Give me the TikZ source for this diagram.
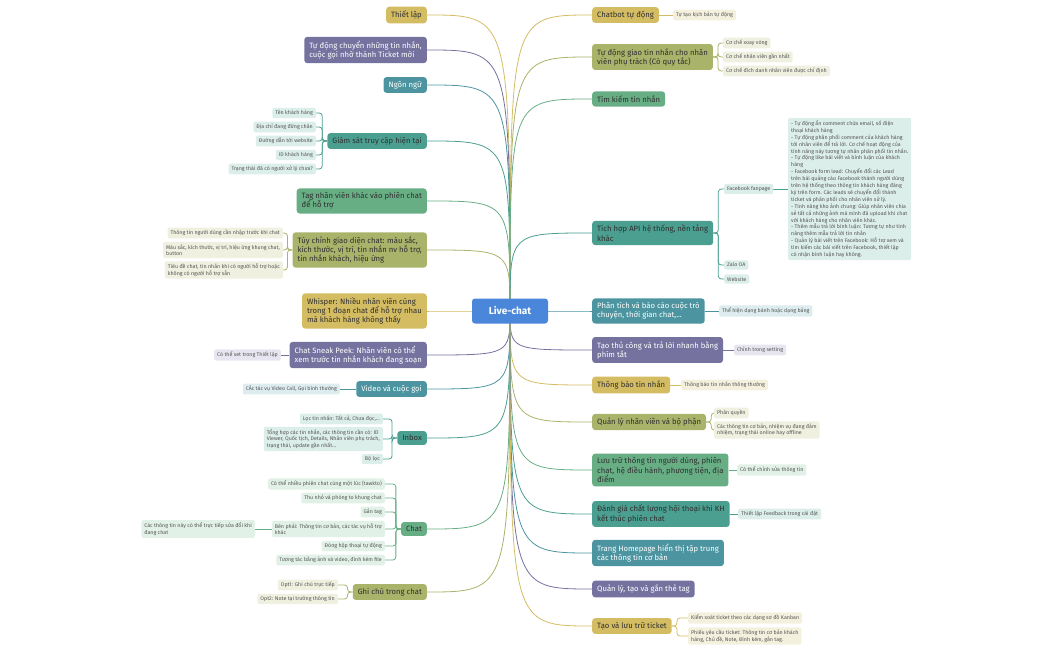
\documentclass[tikz,border=0pt]{standalone}
\usepackage{fontspec}
\setmainfont{Fira Sans}
\usetikzlibrary{backgrounds}

\definecolor{cYel}{HTML}{D4BC63}
\definecolor{cYelL}{HTML}{F4F0DE}
\definecolor{cPur}{HTML}{76729F}
\definecolor{cPurL}{HTML}{E7E6F0}
\definecolor{cTeal}{HTML}{4C95A0}
\definecolor{cTealL}{HTML}{DDEDEF}
\definecolor{cTgr}{HTML}{4B9F91}
\definecolor{cTgrL}{HTML}{DCEEEA}
\definecolor{cGrn}{HTML}{68AE85}
\definecolor{cGrnL}{HTML}{E2F1E7}
\definecolor{cOli}{HTML}{A9B36A}
\definecolor{cOliL}{HTML}{EFF0DF}
\definecolor{cBlue}{HTML}{4A86D9}
\definecolor{cDark}{HTML}{2F2F2F}
\definecolor{cGrey}{HTML}{555555}

\tikzset{
  main/.style={rounded corners=3pt, inner xsep=5pt, inner ysep=4pt, align=left,
    font=\fontsize{7.7}{9.3}\selectfont},
  yel/.style={main, fill=cYel, text=cDark},
  pur/.style={main, fill=cPur, text=white},
  teal/.style={main, fill=cTeal, text=white},
  tgr/.style={main, fill=cTgr, text=cDark},
  grn/.style={main, fill=cGrn, text=cDark},
  oli/.style={main, fill=cOli, text=cDark},
  sub/.style={rounded corners=2pt, inner xsep=3pt, inner ysep=2.5pt, align=left,
    text=cGrey, font=\fontsize{5.3}{6.5}\selectfont},
  sYel/.style={sub, fill=cYelL},
  sPur/.style={sub, fill=cPurL},
  sTeal/.style={sub, fill=cTealL},
  sTgr/.style={sub, fill=cTgrL},
  sGrn/.style={sub, fill=cGrnL},
  sOli/.style={sub, fill=cOliL},
  lYel/.style={draw=cYel, line width=0.8pt, rounded corners=3pt},
  lPur/.style={draw=cPur, line width=0.8pt, rounded corners=3pt},
  lTeal/.style={draw=cTeal, line width=0.8pt, rounded corners=3pt},
  lTgr/.style={draw=cTgr, line width=0.8pt, rounded corners=3pt},
  lGrn/.style={draw=cGrn, line width=0.8pt, rounded corners=3pt},
  lOli/.style={draw=cOli, line width=0.8pt, rounded corners=3pt},
}
\newcommand\branch[2]{\draw[#1] (lc.center) .. controls (lc.center |- #2) .. (#2);}
\newcommand\subL[3]{\draw[#1] (#2.west) -- ++(-5,0) |- (#3.east);}
\newcommand\subR[3]{\draw[#1] (#2.east) -- ++(5,0) |- (#3.west);}

\begin{document}
\begin{tikzpicture}[x=1pt, y=-1pt]
  \useasboundingbox (0,0) rectangle (1050,650);

  \node[rounded corners=3pt, fill=cBlue, text=white, minimum width=76pt, minimum height=25pt,
    font=\fontsize{10}{12}\selectfont\bfseries] (lc) at (510,311) {Live-chat};

  % left
  \node[yel, anchor=east] (setup) at (427,15) {Thiết lập};
  \node[pur, anchor=east] (autoTicket) at (427,50) {Tự động chuyển những tin nhắn,\\cuộc gọi nhỡ thành Ticket mới};
  \node[teal, anchor=east] (lang) at (427,85) {Ngôn ngữ};
  \node[tgr, anchor=east] (monitor) at (427,141) {Giám sát truy cập hiện tại};
  \node[sTgr, anchor=east] (m1) at (316,113) {Tên khách hàng};
  \node[sTgr, anchor=east] (m2) at (316,127) {Địa chỉ đang đứng chân};
  \node[sTgr, anchor=east] (m3) at (316,141) {Đường dẫn tới website};
  \node[sTgr, anchor=east] (m4) at (316,155) {ID khách hàng};
  \node[sTgr, anchor=east] (m5) at (316,169) {Trạng thái đã có người xử lý chưa?};
  \node[grn, anchor=east] (tagStaff) at (427,201) {Tag nhân viên khác vào phiên chat\\để hỗ trợ};
  \node[oli, anchor=east] (custom) at (427,250) {Tùy chỉnh giao diện chat: màu sắc,\\kích thước, vị trí, tin nhắn nv hỗ trợ,\\tin nhắn khách, hiệu ứng};
  \node[sOli, anchor=east] (c1) at (283,233) {Thông tin người dùng cần nhập trước khi chat};
  \node[sOli, anchor=east] (c2) at (283,250) {Màu sắc, kích thước, vị trí, hiệu ứng khung chat,\\button};
  \node[sOli, anchor=east] (c3) at (283,270) {Tiêu đề chat, tin nhắn khi có người hỗ trợ hoặc\\không có người hỗ trợ sẵn};
  \node[yel, anchor=east] (whisper) at (427,311) {Whisper: Nhiều nhân viên cùng\\trong 1 đoạn chat để hỗ trợ nhau\\mà khách hàng không thấy};
  \node[pur, anchor=east] (sneak) at (427,355) {Chat Sneak Peek: Nhân viên có thể\\xem trước tin nhắn khách đang soạn};
  \node[sPur, anchor=east] (s1) at (281,355) {Có thể set trong Thiết lập};
  \node[teal, anchor=east] (video) at (427,389) {Video và cuộc gọi};
  \node[sTeal, anchor=east] (v1) at (340,389) {CÁc tác vụ Video Call, Gọi bình thường};
  \node[tgr, anchor=east] (inbox) at (427,438) {Inbox};
  \node[sTgr, anchor=east] (i1) at (383,419) {Lọc tin nhắn: Tất cả, Chưa đọc,...};
  \node[sTgr, anchor=east] (i2) at (383,439) {Tổng hợp các tin nhắn, các thông tin cần có: ID\\Viewer, Quốc tịch, Details, Nhân viên phụ trách,\\trạng thái, update gần nhất...};
  \node[sTgr, anchor=east] (i3) at (383,459) {Bộ lọc};
  \node[grn, anchor=east] (chat) at (427,529) {Chat};
  \node[sGrn, anchor=east] (h1) at (385,484) {Có thể nhiều phiên chat cùng một lúc (tawkto)};
  \node[sGrn, anchor=east] (h2) at (385,498) {Thu nhỏ và phóng to khung chat};
  \node[sGrn, anchor=east] (h3) at (385,512) {Gắn tag};
  \node[sGrn, anchor=east] (h4) at (385,529) {Bên phải: Thông tin cơ bản, các tác vụ hỗ trợ\\khác};
  \node[sGrn, anchor=east] (h5) at (385,546) {Đóng hộp thoại tự động};
  \node[sGrn, anchor=east] (h6) at (385,560) {Tương tác bằng ảnh và video, đính kèm file};
  \node[sGrn, anchor=east] (h4a) at (255,529) {Các thông tin này có thể trực tiếp sửa đổi khi\\đang chat};
  \node[oli, anchor=east] (note) at (427,592) {Ghi chú trong chat};
  \node[sOli, anchor=east] (n1) at (338,585) {Opt1: Ghi chú trực tiếp};
  \node[sOli, anchor=east] (n2) at (338,599) {Opt2: Note tại trường thông tin};

  % right
  \node[yel, anchor=west] (bot) at (592,15) {Chatbot tự động};
  \node[sYel, anchor=west] (b1) at (673,15) {Tự tạo kịch bản tự động};
  \node[oli, anchor=west] (assign) at (592,57) {Tự động giao tin nhắn cho nhân\\viên phụ trách (Có quy tắc)};
  \node[sOli, anchor=west] (a1) at (723,43) {Cơ chế xoay vòng};
  \node[sOli, anchor=west] (a2) at (723,57) {Cơ chế nhân viên gần nhất};
  \node[sOli, anchor=west] (a3) at (723,71) {Cơ chế đích danh nhân viên được chỉ định};
  \node[grn, anchor=west] (search) at (592,99) {Tìm kiếm tin nhắn};
  \node[tgr, anchor=west] (api) at (592,233) {Tích hợp API hệ thống, nền tảng\\khác};
  \node[sTgr, anchor=west] (fb) at (724,189) {Facebook fanpage};
  \node[sTgr, anchor=west] (zalo) at (724,265) {Zalo OA};
  \node[sTgr, anchor=west] (web) at (724,279) {Website};
  \node[sTgr, anchor=west, font=\fontsize{5.3}{6.9}\selectfont] (fbDetail) at (788,189) {%
- Tự động ẩn comment chứa email, số điện\\thoại khách hàng\\
- Tự động phân phối comment của khách hàng\\tới nhân viên để trả lời. Cơ chế hoạt động của\\tính năng này tương tự nhân phân phối tin nhắn.\\
- Tự động like bài viết và bình luận của khách\\hàng\\
- Facebook form lead: Chuyển đổi các Lead\\trên bài quảng cáo Facebook thành người dùng\\trên hệ thống theo thông tin khách hàng đăng\\ký trên form. Các leads sẽ chuyển đổi thành\\ticket và phân phối cho nhân viên xử lý.\\
- Tính năng kho ảnh chung: Giúp nhân viên chia\\sẻ tất cả những ảnh mà mình đã upload khi chat\\với khách hàng cho nhân viên khác.\\
- Thêm mẫu trả lời bình luận: Tương tự như tính\\năng thêm mẫu trả lời tin nhắn\\
- Quản lý bài viết trên Facebook: Hỗ trợ xem và\\tìm kiếm các bài viết trên Facebook, thiết lập\\có nhận bình luận hay không.};
  \node[teal, anchor=west] (report) at (592,311) {Phân tích và báo cáo cuộc trò\\chuyện, thời gian chat,...};
  \node[sTeal, anchor=west] (r1) at (719,311) {Thể hiện dạng bánh hoặc dạng bảng};
  \node[pur, anchor=west] (quick) at (592,350) {Tạo thủ công và trả lời nhanh bằng\\phím tắt};
  \node[sPur, anchor=west] (q1) at (734,350) {Chỉnh trong setting};
  \node[yel, anchor=west] (notify) at (592,385) {Thông báo tin nhắn};
  \node[sYel, anchor=west] (t1) at (681,385) {Thông báo tin nhắn thông thường};
  \node[oli, anchor=west] (staff) at (592,422) {Quản lý nhân viên và bộ phận};
  \node[sOli, anchor=west] (p1) at (714,413) {Phân quyền};
  \node[sOli, anchor=west] (p2) at (714,430) {Các thông tin cơ bản, nhiệm vụ đang đảm\\nhiệm, trạng thái online hay offline};
  \node[grn, anchor=west] (store) at (592,470) {Lưu trữ thông tin người dùng, phiên\\chat, hệ điều hành, phương tiện, địa\\điểm};
  \node[sGrn, anchor=west] (u1) at (737,470) {Có thể chỉnh sửa thông tin};
  \node[tgr, anchor=west] (rating) at (592,514) {Đánh giá chất lượng hội thoại khi KH\\kết thúc phiên chat};
  \node[sTgr, anchor=west] (e1) at (738,514) {Thiết lập Feedback trong cài đặt};
  \node[teal, anchor=west] (home) at (592,553) {Trang Homepage hiển thị tập trung\\các thông tin cơ bản};
  \node[pur, anchor=west] (tagMgmt) at (592,589) {Quản lý, tạo và gắn thẻ tag};
  \node[yel, anchor=west] (ticket) at (592,626) {Tạo và lưu trữ ticket};
  \node[sYel, anchor=west] (k1) at (688,618) {Kiểm soát ticket theo các dạng sơ đồ Kanban};
  \node[sYel, anchor=west] (k2) at (688,636) {Phiếu yêu cầu ticket: Thông tin cơ bản khách\\hàng, Chủ đề, Note, Đính kèm, gắn tag.};

  \begin{scope}[on background layer]
    % branches
    \branch{lYel}{setup.east}
    \branch{lPur}{autoTicket.east}
    \branch{lTeal}{lang.east}
    \branch{lTgr}{monitor.east}
    \branch{lGrn}{tagStaff.east}
    \branch{lOli}{custom.east}
    \branch{lYel}{whisper.east}
    \branch{lPur}{sneak.east}
    \branch{lTeal}{video.east}
    \branch{lTgr}{inbox.east}
    \branch{lGrn}{chat.east}
    \branch{lOli}{note.east}
    \branch{lYel}{bot.west}
    \branch{lOli}{assign.west}
    \branch{lGrn}{search.west}
    \branch{lTgr}{api.west}
    \branch{lTeal}{report.west}
    \branch{lPur}{quick.west}
    \branch{lYel}{notify.west}
    \branch{lOli}{staff.west}
    \branch{lGrn}{store.west}
    \branch{lTgr}{rating.west}
    \branch{lTeal}{home.west}
    \branch{lPur}{tagMgmt.west}
    \branch{lYel}{ticket.west}
    % sub branches
    \foreach \s in {m1,m2,m3,m4,m5} {\subL{lTgr}{monitor}{\s}}
    \foreach \s in {c1,c2,c3} {\subL{lOli}{custom}{\s}}
    \draw[lPur] (sneak.west) -- (s1.east);
    \draw[lTeal] (video.west) -- (v1.east);
    \foreach \s in {i1,i2,i3} {\subL{lTgr}{inbox}{\s}}
    \foreach \s in {h1,h2,h3,h4,h5,h6} {\subL{lGrn}{chat}{\s}}
    \draw[lGrn] (h4.west) -- (h4a.east);
    \foreach \s in {n1,n2} {\subL{lOli}{note}{\s}}
    \draw[lYel] (bot.east) -- (b1.west);
    \foreach \s in {a1,a2,a3} {\subR{lOli}{assign}{\s}}
    \foreach \s in {fb,zalo,web} {\subR{lTgr}{api}{\s}}
    \draw[lTgr] (fb.east) -- (fbDetail.west);
    \draw[lTeal] (report.east) -- (r1.west);
    \draw[lPur] (quick.east) -- (q1.west);
    \draw[lYel] (notify.east) -- (t1.west);
    \foreach \s in {p1,p2} {\subR{lOli}{staff}{\s}}
    \draw[lGrn] (store.east) -- (u1.west);
    \draw[lTgr] (rating.east) -- (e1.west);
    \foreach \s in {k1,k2} {\subR{lYel}{ticket}{\s}}
  \end{scope}
\end{tikzpicture}
\end{document}
